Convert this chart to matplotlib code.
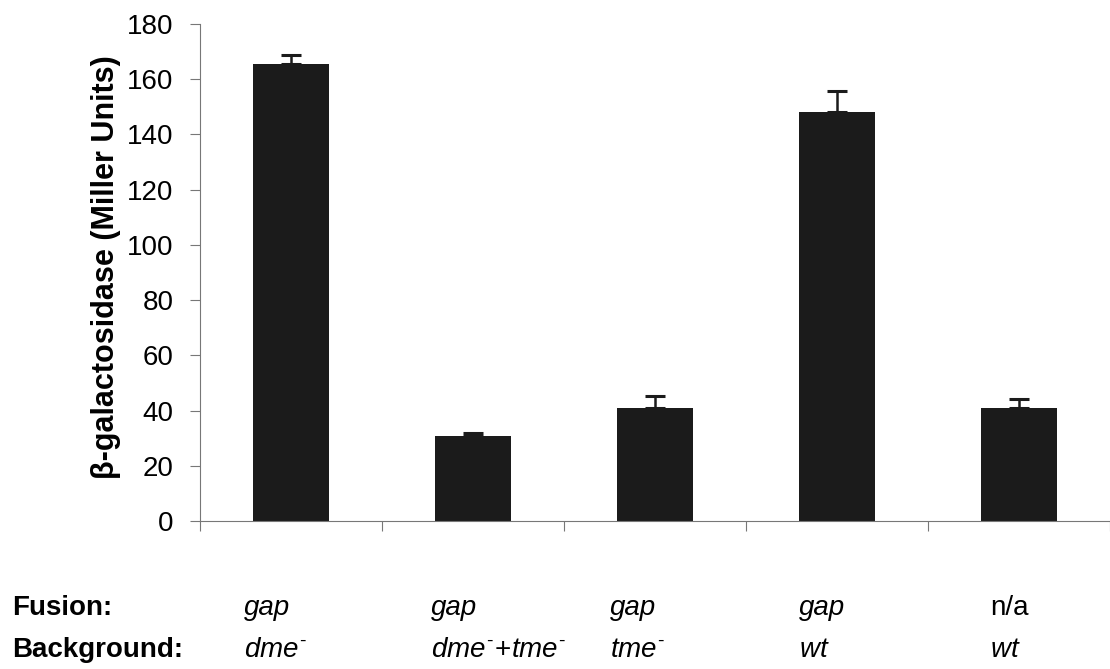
import numpy as np
import matplotlib.pyplot as plt

plt.rcParams['font.family'] = ['Liberation Sans', 'DejaVu Sans']
plt.rcParams['mathtext.fontset'] = 'custom'
plt.rcParams['mathtext.rm'] = 'Liberation Sans'
plt.rcParams['mathtext.it'] = 'Liberation Sans:italic'

# data
fusion = ["gap", "gap", "gap", "gap", "n/a"]
background = [r"$dme^{\text{-}}$", r"$dme^{\text{-}}\!+\!tme^{\text{-}}$",
              r"$tme^{\text{-}}$", r"$wt$", r"$wt$"]
fusion_italic = [True, True, True, True, False]
values = [165.5, 30.8, 40.8, 148.3, 40.8]
errors = [3.3, 1.0, 4.5, 7.3, 3.5]

# left edge (pixels) of the labels under each bar
label_x_px = [244, 431, 610, 799, 990]

W, H = 1110, 669
fig = plt.figure(figsize=(W / 100, H / 100), dpi=100)
ax = fig.add_axes([200 / W, (H - 521) / H, 1 - 200 / W, (521 - 24) / H])

x = np.arange(len(values))
ax.bar(x, values, width=0.42, color="#1b1b1b", zorder=2)
ax.errorbar(x, values, yerr=[np.zeros(len(errors)), errors], fmt="none",
            ecolor="#1b1b1b", elinewidth=1.8, capsize=7, capthick=2.2, zorder=3)

ax.set_xlim(-0.5, len(values) - 0.5)
ax.set_ylim(0, 180)
ax.set_yticks(np.arange(0, 181, 20))
ax.tick_params(axis="y", labelsize=20, length=7, width=0.8, color="#777777",
               pad=12, direction="out")

# category boundary ticks on the x axis
ax.set_xticks(np.arange(-0.5, len(values), 1.0))
ax.set_xticklabels([])
ax.tick_params(axis="x", length=7, width=0.8, color="#777777", direction="out")

for side in ["top", "right"]:
    ax.spines[side].set_visible(False)
for side in ["left", "bottom"]:
    ax.spines[side].set_color("#777777")
    ax.spines[side].set_linewidth(0.8)

ax.set_ylabel("β-galactosidase (Miller Units)", fontsize=22, fontweight="bold")
ax.yaxis.set_label_coords(-0.087, 0.51)

# table under the chart
fig.text(12 / W, 1 - 608 / H, "Fusion:", fontsize=20, fontweight="bold",
         ha="left", va="center")
fig.text(12 / W, 1 - 650 / H, "Background:", fontsize=20, fontweight="bold",
         ha="left", va="center")
for i in range(len(values)):
    fig.text(label_x_px[i] / W, 1 - 608 / H, fusion[i], fontsize=20,
             style="italic" if fusion_italic[i] else "normal",
             ha="left", va="center")
    fig.text(label_x_px[i] / W, 1 - 650 / H, background[i], fontsize=20,
             ha="left", va="center")

fig.savefig("out.png", dpi=100)
